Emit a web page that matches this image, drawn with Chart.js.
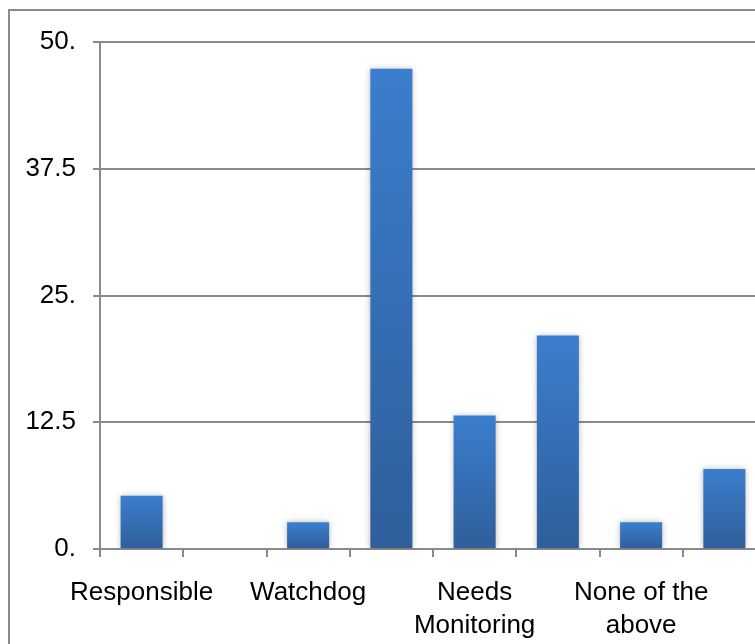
<!DOCTYPE html>
<html>
<head>
<meta charset="utf-8">
<title>Responses</title>
<script src="https://cdn.jsdelivr.net/npm/chart.js@4/dist/chart.umd.min.js"></script>
<style>
  html, body { margin: 0; padding: 0; background: #fff; overflow: hidden; width: 755px; height: 644px; }
  #frame {
    position: absolute; left: 8px; top: 9px; width: 900px; height: 800px;
    border: 2px solid #8a8a8a; box-sizing: border-box;
  }
  #wrap { position: absolute; left: 0; top: 0; width: 800px; height: 644px; }
</style>
</head>
<body>
<div id="frame"></div>
<div id="wrap"><canvas id="c" width="800" height="644"></canvas></div>
<script>
// Categories (only every other one carries a printed label)
const categories = [
  'Responsible', '', 'Watchdog', '', ['Needs', 'Monitoring'], '', ['None of the', 'above'], ''
];
// Share of responses, percent
const values = [5.26, 0, 2.63, 47.37, 13.16, 21.05, 2.63, 7.89];
// Value-axis tick labels
const yTickValues = [0, 12.5, 25, 37.5, 50];
const yTickLabels = ['0.', '12.5', '25.', '37.5', '50.'];

const FONT = { family: '"Liberation Sans", Arial, sans-serif', size: 26, lineHeight: 1.24 };
const GRID = '#8a8a8a';

// Vertical gradient per bar, from its top down to the baseline
function barFill(ctx) {
  const chart = ctx.chart;
  if (!chart.chartArea || ctx.type !== 'data') return '#3670b5';
  const y = chart.scales.y;
  const top = y.getPixelForValue(ctx.raw);
  const bottom = y.getPixelForValue(0);
  if (bottom - top < 1) return '#3670b5';
  const g = chart.ctx.createLinearGradient(0, top, 0, bottom);
  g.addColorStop(0, '#3b7ecd');
  g.addColorStop(1, '#2f5e9b');
  return g;
}

// Soft shadow around the bars
const barShadow = {
  id: 'barShadow',
  beforeDatasetDraw(chart) {
    const c = chart.ctx;
    c.save();
    c.shadowColor = 'rgba(0,0,0,0.28)';
    c.shadowBlur = 6;
    c.shadowOffsetX = 0;
    c.shadowOffsetY = 0;
  },
  afterDatasetDraw(chart) { chart.ctx.restore(); }
};

new Chart(document.getElementById('c'), {
  type: 'bar',
  data: {
    labels: categories,
    datasets: [{
      data: values,
      backgroundColor: barFill,
      borderWidth: 0,
      barPercentage: 0.505,
      categoryPercentage: 1.0
    }]
  },
  options: {
    responsive: false,
    animation: false,
    events: [],
    layout: { padding: { left: 0, right: 34, top: 42, bottom: 0 } },
    plugins: { legend: { display: false }, tooltip: { enabled: false } },
    scales: {
      x: {
        grid: { display: true, drawOnChartArea: false, drawTicks: true, tickLength: 8, color: GRID, lineWidth: 2, offset: true },
        border: { display: true, color: GRID, width: 2 },
        ticks: { color: '#000', font: FONT, padding: 20, autoSkip: false, maxRotation: 0, minRotation: 0 },
        afterFit(scale) { scale.height = 95; }
      },
      y: {
        min: 0, max: 50,
        afterBuildTicks(scale) { scale.ticks = yTickValues.map(v => ({ value: v })); },
        grid: { color: GRID, lineWidth: 2, tickLength: 7, drawTicks: true },
        border: { display: true, color: GRID, width: 2 },
        ticks: {
          color: '#000', font: FONT, padding: 17,
          callback(v) { const i = yTickValues.indexOf(v); return i >= 0 ? yTickLabels[i] : ''; }
        },
        afterFit(scale) { scale.width = 100; }
      }
    }
  },
  plugins: [barShadow]
});
</script>
</body>
</html>
